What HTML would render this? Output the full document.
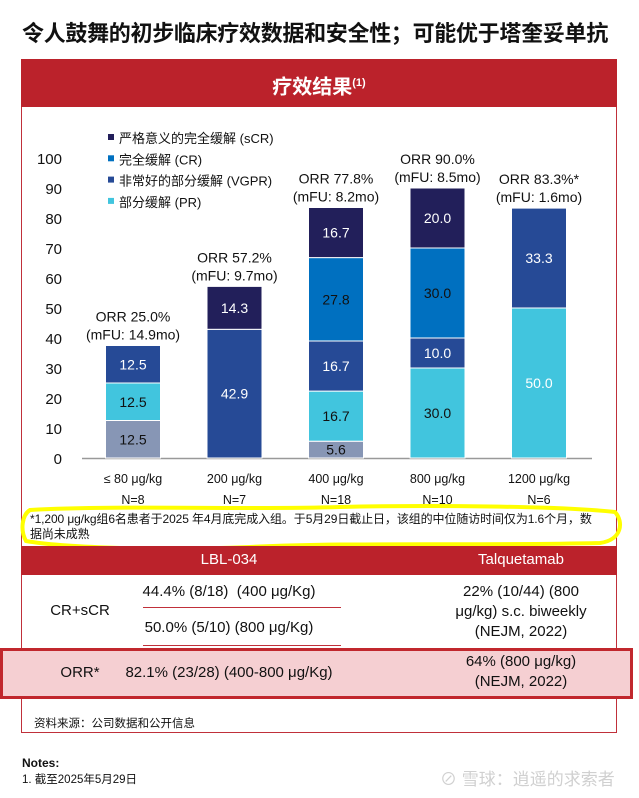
<!DOCTYPE html>
<html><head><meta charset="utf-8">
<style>
body{margin:0;width:639px;height:798px;background:#fff;position:relative;overflow:hidden;font-family:"Liberation Sans","Noto Sans CJK SC",sans-serif;color:#111}
.a{position:absolute;white-space:nowrap}
.c{transform:translateX(-50%);text-align:center}
</style></head><body>
<div class="a" style="left:22px;top:16px;font-size:22px;font-weight:bold;letter-spacing:-0.3px">令人鼓舞的初步临床疗效数据和安全性；可能优于塔奎妥单抗</div>
<div class="a" style="left:21px;top:59px;width:596px;height:674px;border:1px solid #c0303a;box-sizing:border-box"></div>
<div class="a" style="left:21px;top:59px;width:596px;height:48px;background:#bb222b;color:#fff;font-size:20px;font-weight:bold;text-align:center;line-height:48px">疗效结果<sup style="font-size:11px">(1)</sup></div>

<svg class="a" style="left:0;top:0" width="639" height="560" id="chart"></svg>

<div class="a" style="left:30px;top:512px;font-size:12px;line-height:15px;letter-spacing:-0.1px">*1,200 μg/kg组6名患者于2025 年4月底完成入组。于5月29日截止日，该组的中位随访时间仅为1.6个月，数<br>据尚未成熟</div>
<svg class="a" style="left:0;top:0" width="639" height="560"><path d="M30 510 C120 505 250 510 340 507 C430 505 560 506 615 512 C624 522 622 540 600 543 C480 546 350 542 250 547 C150 551 60 547 26 541 C20 530 22 515 30 510 Z" fill="none" stroke="#ffff00" stroke-width="4"/></svg>

<div class="a" style="left:21px;top:546px;width:596px;height:29px;background:#bb222b"></div>
<div class="a c" style="left:229px;top:551px;font-size:15px;color:#fff">LBL-034</div>
<div class="a c" style="left:521px;top:551px;font-size:15px;color:#fff">Talquetamab</div>
<div class="a c" style="left:80px;top:602px;font-size:15px">CR+sCR</div>
<div class="a c" style="left:229px;top:583px;font-size:15px">44.4% (8/18)&nbsp; (400 μg/Kg)</div>
<div class="a" style="left:143px;top:607px;width:198px;height:1px;background:#c0303a"></div>
<div class="a c" style="left:229px;top:619px;font-size:15px">50.0% (5/10) (800 μg/Kg)</div>
<div class="a" style="left:143px;top:645px;width:198px;height:1px;background:#c0303a"></div>
<div class="a c" style="left:521px;top:582px;font-size:15px;line-height:20px">22% (10/44) (800<br>μg/kg) s.c. biweekly<br>(NEJM, 2022)</div>
<div class="a" style="left:0;top:648px;width:633px;height:51px;background:#f5cfd2;border:3px solid #c1272d;box-sizing:border-box"></div>
<div class="a c" style="left:80px;top:664px;font-size:15px">ORR*</div>
<div class="a c" style="left:229px;top:664px;font-size:15px">82.1% (23/28) (400-800 μg/Kg)</div>
<div class="a c" style="left:521px;top:652px;font-size:15px;line-height:20px">64% (800 μg/kg)<br>(NEJM, 2022)</div>
<div class="a" style="left:34px;top:715px;font-size:11.5px">资料来源：公司数据和公开信息</div>
<div class="a" style="left:22px;top:756px;font-size:12px;font-weight:bold">Notes:</div>
<div class="a" style="left:22px;top:771px;font-size:11.5px">1. 截至2025年5月29日</div>
<div class="a" style="left:440px;top:765px;font-size:17px;color:#d0d0d0">⊘ 雪球：逍遥的求索者</div>

<script>
const categories=["≤ 80 μg/kg","200 μg/kg","400 μg/kg","800 μg/kg","1200 μg/kg"];
const nLabels=["N=8","N=7","N=18","N=10","N=6"];
const other=[12.5,0,5.6,0,0];
const pr=[12.5,0,16.7,30.0,50.0];
const vgpr=[12.5,42.9,16.7,10.0,33.3];
const cr=[0,0,27.8,30.0,0];
const scr=[0,14.3,16.7,20.0,0];
const orrLabels=["ORR 25.0%","ORR 57.2%","ORR 77.8%","ORR 90.0%","ORR 83.3%*"];
const mfuLabels=["(mFU: 14.9mo)","(mFU: 9.7mo)","(mFU: 8.2mo)","(mFU: 8.5mo)","(mFU: 1.6mo)"];
const yTicks=[0,10,20,30,40,50,60,70,80,90,100];
const legendNames=["严格意义的完全缓解 (sCR)","完全缓解 (CR)","非常好的部分缓解 (VGPR)","部分缓解 (PR)"];

const svg=document.getElementById('chart');
const NS='http://www.w3.org/2000/svg';
const y=v=>458-v*3;
const xc=i=>133+i*101.5;
const BW=55;
function mk(t,at){const e=document.createElementNS(NS,t);for(const k in at)e.setAttribute(k,at[k]);svg.appendChild(e);return e;}
yTicks.forEach(t=>{const e=mk('text',{x:62,y:y(t)+6,'text-anchor':'end','font-size':15,fill:'#111'});e.textContent=t;

});
const ax=mk('line',{x1:82,y1:458.5,x2:592,y2:458.5,stroke:'#999','stroke-width':1.5});


const series=[[other,'#8796b5','#111','other'],[pr,'#41c5de','#111','pr'],[vgpr,'#264a96','#fff','vgpr'],[cr,'#0070c0','#111','cr'],[scr,'#221f5a','#fff','scr']];
categories.forEach((c,i)=>{
  let base=0;
  series.forEach(([arr,col,tc,nm])=>{
    const v=arr[i]; if(!v)return;
    const r=mk('rect',{x:xc(i)-BW/2,y:y(base+v),width:BW,height:v*3,fill:col,stroke:'#fff','stroke-width':1});
    
    
    const t=mk('text',{x:xc(i),y:y(base+v/2)+5,'text-anchor':'middle','font-size':14,fill:(nm==='pr'&&v>=50)?'#fff':tc});
    t.textContent=v.toFixed(1);
    
    
    base+=v;
  });
  const t1=mk('text',{x:xc(i),y:y(base)-24,'text-anchor':'middle','font-size':14,fill:'#111'});t1.textContent=orrLabels[i];
  
  
  const t2=mk('text',{x:xc(i),y:y(base)-6,'text-anchor':'middle','font-size':14,fill:'#111'});t2.textContent=mfuLabels[i];
  
  
  const t3=mk('text',{x:xc(i),y:483,'text-anchor':'middle','font-size':12.5,fill:'#111'});t3.textContent=c;
  
  
  const t4=mk('text',{x:xc(i),y:504,'text-anchor':'middle','font-size':12.5,fill:'#111'});t4.textContent=nLabels[i];
  
  
});
const legCols=['#221f5a','#0070c0','#264a96','#41c5de'];
const clip=mk('clipPath',{id:'lc'});const cr2=document.createElementNS(NS,'rect');cr2.setAttribute('x',0);cr2.setAttribute('y',120);cr2.setAttribute('width',279);cr2.setAttribute('height',100);clip.appendChild(cr2);
legendNames.forEach((n,k)=>{
  const yy=138+k*21.3;
  const s=mk('rect',{x:108,y:yy-4,width:6,height:6,fill:legCols[k]});
  
  
  const t=mk('text',{x:119,y:yy+5,'font-size':13,fill:'#111','clip-path':'url(#lc)'});t.textContent=n;
  
  
});
</script>
</body></html>
